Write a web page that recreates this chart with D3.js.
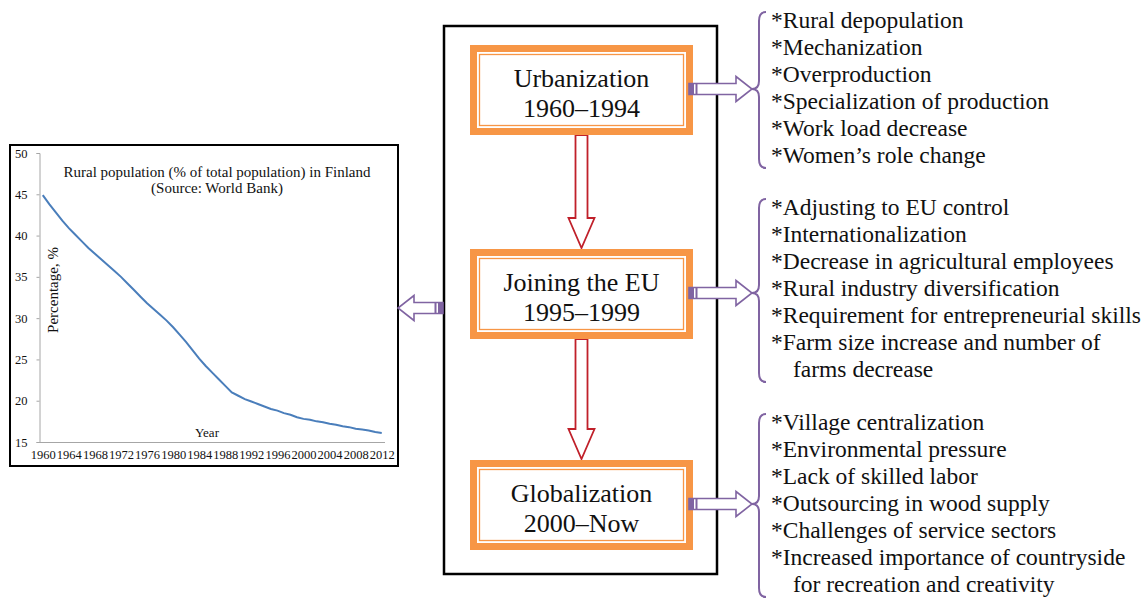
<!DOCTYPE html>
<html lang="en">
  <head>
    <meta charset="utf-8">
    <title>Rural Finland</title>
    <style>
      body { margin: 0; background: #fff; }
    </style>
  </head>
  <body>
    <svg width="1146" height="598"></svg>

    <script src="https://cdn.jsdelivr.net/npm/d3@7"></script>
    <script>

    // rural population, % of total (Finland, World Bank)
    var years = d3.range(1960, 2013);
    var rural = [44.9, 43.8, 42.8, 41.8, 40.9, 40.1, 39.3, 38.5, 37.8, 37.1,
                 36.4, 35.7, 35.0, 34.2, 33.4, 32.6, 31.8, 31.1, 30.4, 29.7,
                 28.9, 28.0, 27.1, 26.1, 25.1, 24.2, 23.4, 22.6, 21.8, 21.0,
                 20.6, 20.2, 19.9, 19.6, 19.3, 19.0, 18.8, 18.5, 18.3, 18.0,
                 17.8, 17.7, 17.5, 17.4, 17.2, 17.1, 16.9, 16.8, 16.6, 16.5,
                 16.4, 16.2, 16.1];
    var yTicks = [15, 20, 25, 30, 35, 40, 45, 50];
    var xTicks = years.filter(function(y) { return (y - 1960) % 4 === 0; });

    var stages = ["Urbanization", "Joining the EU", "Globalization"];
    var periods = ["1960\u20131994", "1995\u20131999", "2000\u2013Now"];
    var effects = [
      ["*Rural depopulation", "*Mechanization", "*Overproduction",
       "*Specialization of production", "*Work load decrease", "*Women\u2019s role change"],
      ["*Adjusting to EU control", "*Internationalization", "*Decrease in agricultural employees",
       "*Rural industry diversification", "*Requirement for entrepreneurial skills",
       "*Farm size increase and number of", "  farms decrease"],
      ["*Village centralization", "*Environmental pressure", "*Lack of skilled labor",
       "*Outsourcing in wood supply", "*Challenges of service sectors",
       "*Increased importance of countryside", "  for recreation and creativity"]
    ];

    var serif = "Liberation Serif, DejaVu Serif, serif";
    var orange = "#f79646", purple = "#8064a2", red = "#c0202a", ink = "#111";

    var svg = d3.select("svg");

    function label(sel, size) {
      return sel.attr("fill", ink).style("font-family", serif).style("font-size", size + "px");
    }

    /* LINE CHART */

    var chart = svg.append("g");
    chart.append("rect")
        .attr("x", 10).attr("y", 145).attr("width", 388).attr("height", 321)
        .attr("fill", "#fff").attr("stroke", "#000").attr("stroke-width", 2);

    var x = d3.scalePoint().domain(years).range([39.5, 385]).padding(0.5);
    var y = d3.scaleLinear().domain([15, 50]).range([442, 153]);

    var yAxis = chart.append("g")
        .attr("transform", "translate(39.5,0)")
        .call(d3.axisLeft(y).tickValues(yTicks).tickSize(3).tickPadding(9));
    yAxis.selectAll("path, line").attr("stroke", "#a6a6a6");
    label(yAxis.selectAll("text"), 12.5);

    var xAxis = chart.append("g")
        .attr("transform", "translate(0,442)")
        .call(d3.axisBottom(x).tickValues(xTicks).tickSize(0).tickPadding(8));
    xAxis.select("path").attr("stroke", "#a6a6a6").attr("d", "M39.5,0.5H385");
    label(xAxis.selectAll("text"), 12.5);

    chart.append("path")
        .datum(rural)
        .attr("fill", "none")
        .attr("stroke", "#4a7ebb")
        .attr("stroke-width", 2)
        .attr("d", d3.line()
          .x(function(d, i) { return x(years[i]); })
          .y(function(d) { return y(d); }));

    label(chart.append("text"), 15).attr("x", 217).attr("y", 177).attr("text-anchor", "middle")
        .text("Rural population (% of total population) in Finland");
    label(chart.append("text"), 15).attr("x", 217).attr("y", 193).attr("text-anchor", "middle")
        .text("(Source: World Bank)");
    label(chart.append("text"), 15).attr("transform", "translate(58,290) rotate(-90)").attr("text-anchor", "middle")
        .text("Percentage, %");
    label(chart.append("text"), 13).attr("x", 207).attr("y", 437).attr("text-anchor", "middle")
        .text("Year");

    /* FLOW DIAGRAM */

    svg.append("rect")
        .attr("x", 444).attr("y", 26).attr("width", 273).attr("height", 548)
        .attr("fill", "none").attr("stroke", "#000").attr("stroke-width", 2.5);

    var boxX = 470, boxW = 223, boxH = 90;
    var boxY = [45, 249, 460];

    // block arrow pointing down
    function downArrow(cx, y0, y1) {
      var s = 6, h = 13, hl = 30;
      return "M" + (cx - s) + "," + y0 + "H" + (cx + s) + "V" + (y1 - hl) + "H" + (cx + h)
        + "L" + cx + "," + y1 + "L" + (cx - h) + "," + (y1 - hl) + "H" + (cx - s) + "Z";
    }
    // horizontal block arrow, dir = 1 right, -1 left
    function sideArrow(x0, x1, cy, dir) {
      var s = 5.5, h = 12.5, hl = 16 * dir;
      return "M" + x0 + "," + (cy - s) + "H" + (x1 - hl) + "V" + (cy - h) + "L" + x1 + "," + cy
        + "L" + (x1 - hl) + "," + (cy + h) + "V" + (cy + s) + "H" + x0 + "Z";
    }
    function tail(g, x0, cy, dir) {
      // striped tail: solid block, slit, thin bar
      g.append("rect").attr("x", dir > 0 ? x0 : x0 - 5).attr("y", cy - 5.5)
          .attr("width", 5).attr("height", 11).attr("fill", purple);
      g.append("rect").attr("x", dir > 0 ? x0 + 6.5 : x0 - 8.5).attr("y", cy - 5.5)
          .attr("width", 2).attr("height", 11).attr("fill", purple);
    }

    for (var i = 0; i < stages.length; i++) {
      var by = boxY[i], g = svg.append("g");

      if (i < stages.length - 1) {
        g.append("path").attr("d", downArrow(boxX + boxW / 2, by + boxH, boxY[i + 1] - 1))
            .attr("fill", "#fff").attr("stroke", red).attr("stroke-width", 1.8);
      }

      g.append("rect").attr("x", boxX).attr("y", by).attr("width", boxW).attr("height", boxH)
          .attr("fill", orange);
      g.append("rect").attr("x", boxX + 7).attr("y", by + 7).attr("width", boxW - 14).attr("height", boxH - 14)
          .attr("fill", "#fff");
      g.append("rect").attr("x", boxX + 9.5).attr("y", by + 9.5).attr("width", boxW - 19).attr("height", boxH - 19)
          .attr("fill", "none").attr("stroke", orange).attr("stroke-width", 1.3);

      label(g.append("text"), 26).attr("x", boxX + boxW / 2).attr("y", by + 42).attr("text-anchor", "middle")
          .text(stages[i]);
      label(g.append("text"), 26).attr("x", boxX + boxW / 2).attr("y", by + 72).attr("text-anchor", "middle")
          .text(periods[i]);

      // arrow to the list
      var cy = by + 44;
      g.append("path").attr("d", sideArrow(689, 752, cy, 1))
          .attr("fill", "#fff").attr("stroke", purple).attr("stroke-width", 1.6);
      tail(g, 689, cy, 1);

      // list with brace
      var base0 = [28, 215, 430][i], lines = effects[i];
      var bTop = base0 - 16, bBot = base0 + (lines.length - 1) * 27 + 5;
      g.append("path")
          .attr("d", "M766," + bTop + "Q759," + bTop + " 759," + (bTop + 9)
            + "V" + (cy - 8) + "Q759," + cy + " 752," + cy
            + "Q759," + cy + " 759," + (cy + 8)
            + "V" + (bBot - 9) + "Q759," + bBot + " 766," + bBot)
          .attr("fill", "none").attr("stroke", purple).attr("stroke-width", 2);

      label(g.selectAll("text.item").data(lines).enter().append("text"), 23.5)
          .attr("class", "item")
          .attr("x", function(d) { return d.charAt(0) === " " ? 793 : 771; })
          .attr("y", function(d, j) { return base0 + j * 27; })
          .text(function(d) { return d.trim(); });
    }

    // arrow from the frame to the chart
    svg.append("path").attr("d", sideArrow(443, 398, 308, -1))
        .attr("fill", "#fff").attr("stroke", purple).attr("stroke-width", 1.6);
    tail(svg, 443, 308, -1);

    </script>
  </body>
</html>
